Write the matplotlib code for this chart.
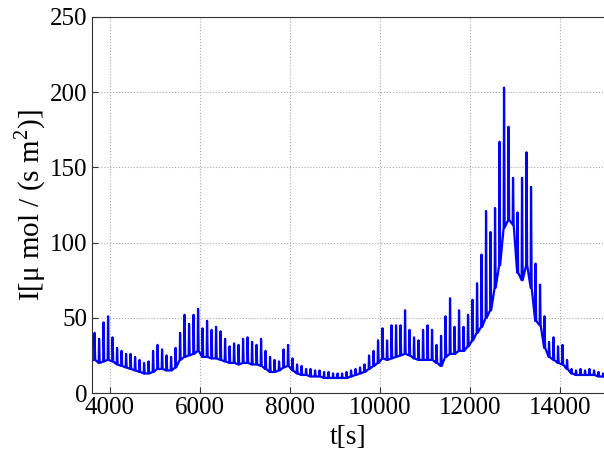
import numpy as np
import matplotlib
matplotlib.use("Agg")
import matplotlib.pyplot as plt

# light intensity pulses, one spike every ~100 s
t_start = 3650
t_step = 100
peaks = [40, 36, 47, 51, 37, 30, 28, 26, 26, 24, 22, 20, 21, 28, 32, 29, 25, 24, 30, 40,
         52, 46, 52, 56, 43, 48, 42, 44, 41, 36, 31, 33, 32, 36, 37, 34, 32, 36, 28, 24,
         22, 21, 29, 32, 23, 19, 18, 16, 16, 15, 15, 14, 14, 13, 13, 13, 14, 15, 16, 17,
         19, 25, 28, 35, 43, 35, 45, 45, 45, 55, 42, 37, 35, 42, 45, 42, 32, 38, 51, 63,
         44, 55, 44, 52, 62, 73, 92, 121, 107, 123, 167, 203, 177, 143, 120, 143, 160, 137, 86, 72,
         51, 34, 37, 31, 32, 22, 16, 15, 16, 15, 16, 15, 14, 13]
bases = [22, 20, 21, 22, 21, 19, 18, 17, 16, 15, 14, 13, 13, 14, 16, 16, 15, 15, 17, 22,
         24, 25, 26, 28, 24, 24, 23, 23, 22, 21, 20, 20, 19, 20, 20, 19, 19, 18, 16, 14,
         14, 15, 17, 18, 15, 13, 12, 12, 11, 11, 11, 10, 10, 10, 10, 10, 10, 11, 12, 13,
         14, 16, 18, 20, 23, 22, 23, 24, 25, 26, 25, 23, 22, 22, 22, 22, 20, 18, 24, 26,
         26, 28, 28, 31, 35, 40, 44, 50, 55, 70, 85, 110, 115, 112, 80, 75, 85, 70, 48, 45,
         30, 24, 22, 20, 19, 16, 13, 12, 12, 12, 12, 12, 11, 11]

x_ticks = [4000, 6000, 8000, 10000, 12000, 14000]
y_ticks = [0, 50, 100, 150, 200, 250]

# build the trace: rise to the peak, fall back to the base level
spike_t = t_start + t_step * np.arange(len(peaks))
t, y = [], []
for ti, p, b in zip(spike_t, peaks, bases):
    t += [ti, ti + 8, ti + 22]
    y += [b, p, b]

plt.rcParams['font.family'] = ['Liberation Serif', 'DejaVu Serif']
plt.rcParams['mathtext.fontset'] = 'custom'
plt.rcParams['mathtext.rm'] = 'Liberation Serif'

fig = plt.figure(figsize=(6.04, 4.57), dpi=100)
ax = fig.add_axes([0.1515, 0.140, 0.850, 0.823])
ax.plot(t, y, color='#0000ff', linewidth=1.6)

ax.set_xlim(3590, 15000)
ax.set_ylim(0, 250)
ax.set_xticks(x_ticks)
ax.set_yticks(y_ticks)
ax.tick_params(direction='in', labelsize=18, length=4, color='#333333')
ax.tick_params(axis='x', pad=3)
ax.tick_params(axis='y', pad=3)
ax.grid(True, linestyle=':', color='#aaaaaa', linewidth=0.8)
for s in ax.spines.values():
    s.set_color('#333333')

ax.set_xlabel('t[s]', fontsize=20, labelpad=4)
ax.set_ylabel('I[μ mol / (s m$^2$)]', fontsize=21, labelpad=1)

fig.savefig('out.png', dpi=100)
